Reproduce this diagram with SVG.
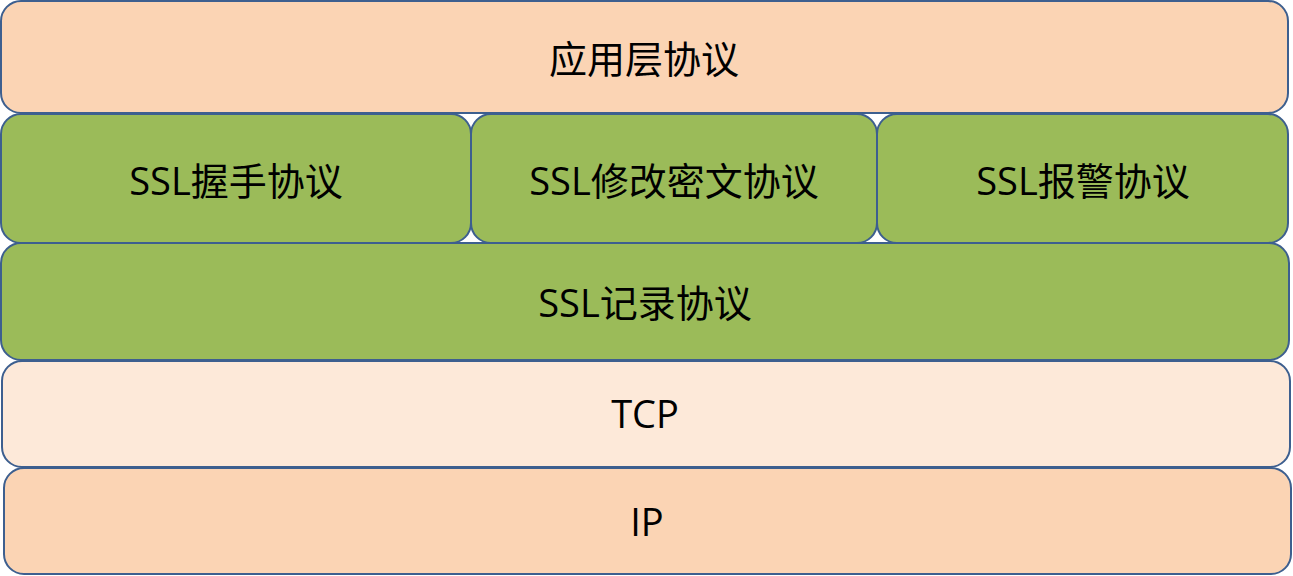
<svg xmlns="http://www.w3.org/2000/svg" width="1293" height="576" viewBox="0 0 1293 576">
<style>
.b{stroke:#3D5F8F;stroke-width:2}
.peach{fill:#FBD4B4}
.green{fill:#9BBB59}
.light{fill:#FDE9D9}
text{font-family:"Open Sans","Noto Sans CJK SC",sans-serif;font-size:38px;fill:#000;text-anchor:middle;dominant-baseline:central}
</style>
<rect width="1293" height="576" fill="#fff"/>
<g id="app"><rect class="b peach" x="1" y="1" width="1287" height="112" rx="20"/><text x="644" y="58">应用层协议</text></g>
<g id="handshake"><rect class="b green" x="1" y="114" width="470" height="129" rx="20"/><text x="236" y="180">SSL握手协议</text></g>
<g id="changecipher"><rect class="b green" x="471" y="114" width="406" height="129" rx="20"/><text x="674" y="180">SSL修改密文协议</text></g>
<g id="alert"><rect class="b green" x="877" y="114" width="411" height="129" rx="20"/><text x="1083" y="180">SSL报警协议</text></g>
<g id="record"><rect class="b green" x="1" y="243" width="1288" height="117" rx="20"/><text x="645" y="302">SSL记录协议</text></g>
<g id="tcp"><rect class="b light" x="2" y="361" width="1288" height="106" rx="20"/><text x="645" y="413">TCP</text></g>
<g id="ip"><rect class="b peach" x="4" y="468" width="1287" height="106" rx="20"/><text x="647" y="521">IP</text></g>
<g id="connectors"/>
</svg>
